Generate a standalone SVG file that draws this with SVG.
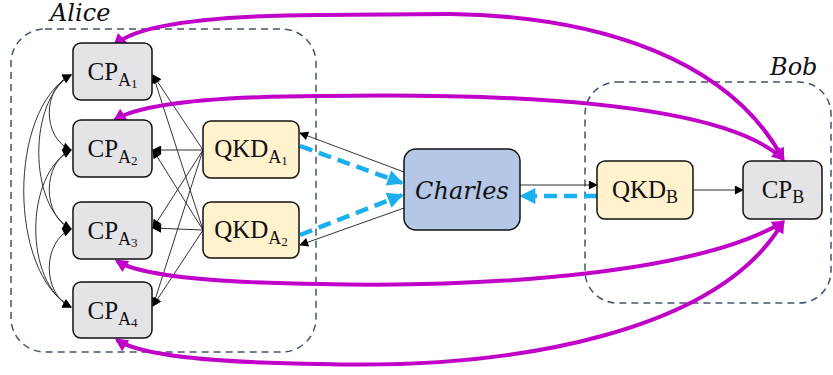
<svg xmlns="http://www.w3.org/2000/svg" width="833" height="375" viewBox="0 0 833 375">
<style>
.grp{fill:none;stroke:#44546A;stroke-width:1.5;stroke-dasharray:7,5}
.cp{fill:#E4E4E7;stroke:#111;stroke-width:1.5}
.qkd{fill:#FFF2CC;stroke:#111;stroke-width:1.5}
.ch{fill:#B4C7E7;stroke:#111;stroke-width:1.5}
.lbl{font-family:"Liberation Serif","DejaVu Serif",serif;font-size:25px;fill:#111;text-anchor:middle}
.it{font-family:"DejaVu Serif","Liberation Serif",serif;font-style:italic;font-size:24px;fill:#111}
.thin{fill:none;stroke:#333;stroke-width:1}
.mag{fill:none;stroke:#C000C8;stroke-width:4}
.blue{fill:none;stroke:#1AAFEF;stroke-width:4.5;stroke-dasharray:13,7}
</style>
<defs>
<marker id="ak" viewBox="0 0 10 10" refX="9" refY="5" markerWidth="10" markerHeight="9" markerUnits="userSpaceOnUse" orient="auto-start-reverse"><path d="M0,0 L10,5 L0,10 z" fill="#000"/></marker>
<marker id="am" viewBox="0 0 10 10" refX="8" refY="5" markerWidth="16" markerHeight="13" markerUnits="userSpaceOnUse" orient="auto-start-reverse"><path d="M0,0 L10,5 L0,10 z" fill="#C000C8"/></marker>
<marker id="ab" viewBox="0 0 10 10" refX="9" refY="5" markerWidth="17" markerHeight="16" markerUnits="userSpaceOnUse" orient="auto"><path d="M0,0 L10,5 L0,10 z" fill="#1AAFEF"/></marker>
</defs>

<g id="alice-group">
<rect class="grp" x="11" y="29" width="305" height="323" rx="34"/>
<text class="it" x="50" y="21" font-size="22">Alice</text>
</g>
<g id="bob-group">
<rect class="grp" x="585" y="82" width="246" height="221" rx="32"/>
<text class="it" x="770" y="75">Bob</text>
</g>

<g id="connectors">
<path class="thin" d="M71,75 C42,88 42,138 71,150" marker-start="url(#ak)" marker-end="url(#ak)"/>
<path class="thin" d="M71,75 C28,100 28,205 71,229" marker-start="url(#ak)" marker-end="url(#ak)"/>
<path class="thin" d="M71,75 C8,110 8,272 71,307" marker-start="url(#ak)" marker-end="url(#ak)"/>
<path class="thin" d="M71,150 C42,163 42,216 71,229" marker-start="url(#ak)" marker-end="url(#ak)"/>
<path class="thin" d="M71,150 C24,175 24,283 71,307" marker-start="url(#ak)" marker-end="url(#ak)"/>
<path class="thin" d="M71,229 C42,242 42,294 71,307" marker-start="url(#ak)" marker-end="url(#ak)"/>
<path class="thin" d="M203,150 L153,75" marker-end="url(#ak)"/>
<path class="thin" d="M203,150 L153,150" marker-end="url(#ak)"/>
<path class="thin" d="M203,150 L153,228" marker-end="url(#ak)"/>
<path class="thin" d="M203,150 L153,306" marker-end="url(#ak)"/>
<path class="thin" d="M203,230 L153,75" marker-end="url(#ak)"/>
<path class="thin" d="M203,230 L153,150" marker-end="url(#ak)"/>
<path class="thin" d="M203,230 L153,228" marker-end="url(#ak)"/>
<path class="thin" d="M203,230 L153,306" marker-end="url(#ak)"/>
<path class="thin" d="M404,172 L300,133" marker-end="url(#ak)"/>
<path class="thin" d="M404,208 L300,245" marker-end="url(#ak)"/>
<path class="thin" d="M520,185 L597,185" marker-end="url(#ak)"/>
<path class="thin" d="M693,190 L743,190" marker-end="url(#ak)"/>
<path class="blue" d="M300,146 L402,183" marker-end="url(#ab)"/>
<path class="blue" d="M300,235 L402,195" marker-end="url(#ab)"/>
<path class="blue" d="M597,196 L521,196" marker-end="url(#ab)"/>
<path class="mag" d="M115,45 Q145,16 320,15 L450,14 C600,16 730,60 783,159" marker-start="url(#am)" marker-end="url(#am)"/>
<path class="mag" d="M115,120 Q150,97 320,96 C500,93 720,100 783,159" marker-start="url(#am)" marker-end="url(#am)"/>
<path class="mag" d="M117,261 Q150,282 320,284 C500,288 700,272 783,222" marker-start="url(#am)" marker-end="url(#am)"/>
<path class="mag" d="M117,340 Q150,362 320,364 C520,370 720,330 783,222" marker-start="url(#am)" marker-end="url(#am)"/>
</g>

<g id="cp-a1">
<rect class="cp" x="73" y="43" width="79" height="57" rx="8"/>
<text class="lbl" x="112.5" y="80">CP<tspan dy="6" font-size="18">A</tspan><tspan dy="2" font-size="13">1</tspan></text>
</g>
<g id="cp-a2">
<rect class="cp" x="73" y="120" width="79" height="57" rx="8"/>
<text class="lbl" x="112.5" y="157">CP<tspan dy="6" font-size="18">A</tspan><tspan dy="2" font-size="13">2</tspan></text>
</g>
<g id="cp-a3">
<rect class="cp" x="73" y="202" width="79" height="57" rx="8"/>
<text class="lbl" x="112.5" y="239">CP<tspan dy="6" font-size="18">A</tspan><tspan dy="2" font-size="13">3</tspan></text>
</g>
<g id="cp-a4">
<rect class="cp" x="73" y="282" width="79" height="56" rx="8"/>
<text class="lbl" x="112.5" y="319">CP<tspan dy="6" font-size="18">A</tspan><tspan dy="2" font-size="13">4</tspan></text>
</g>
<g id="qkd-a1">
<rect class="qkd" x="203" y="121" width="96" height="57" rx="8"/>
<text class="lbl" x="251" y="157">QKD<tspan dy="6" font-size="18">A</tspan><tspan dy="2" font-size="13">1</tspan></text>
</g>
<g id="qkd-a2">
<rect class="qkd" x="203" y="202" width="96" height="56" rx="8"/>
<text class="lbl" x="251" y="238">QKD<tspan dy="6" font-size="18">A</tspan><tspan dy="2" font-size="13">2</tspan></text>
</g>
<g id="charles">
<rect class="ch" x="404" y="149" width="116" height="81" rx="12"/>
<text class="it" x="462" y="199" text-anchor="middle">Charles</text>
</g>
<g id="qkd-b">
<rect class="qkd" x="597" y="161" width="96" height="58" rx="8"/>
<text class="lbl" x="645" y="198">QKD<tspan dy="5" font-size="18">B</tspan></text>
</g>
<g id="cp-b">
<rect class="cp" x="743" y="161" width="79" height="58" rx="8"/>
<text class="lbl" x="783" y="198">CP<tspan dy="5" font-size="18">B</tspan></text>
</g>
</svg>
